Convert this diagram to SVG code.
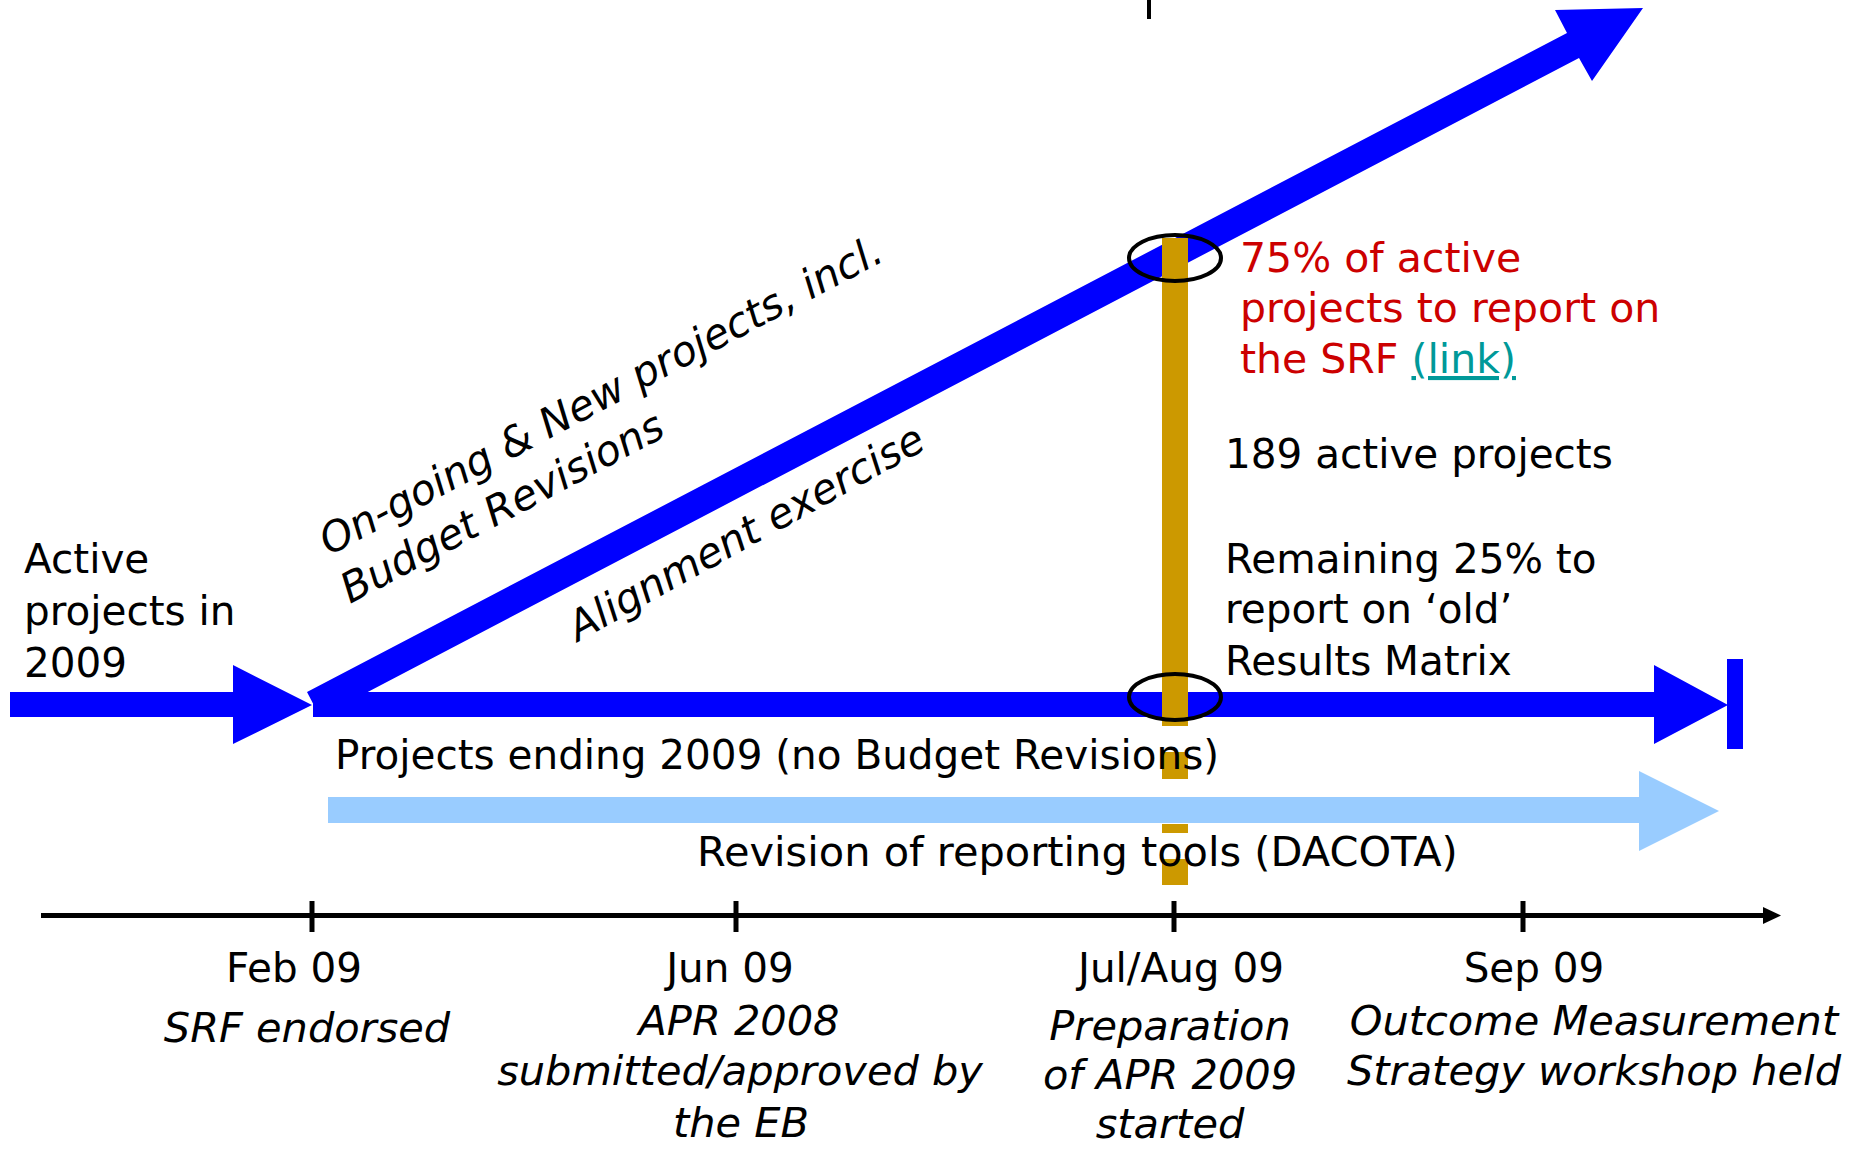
<svg xmlns="http://www.w3.org/2000/svg" width="1861" height="1149" viewBox="0 0 1861 1149">
<style>
text{font-family:"DejaVu Sans","Liberation Sans",sans-serif;font-size:40.5px;fill:#000}
.it{font-style:italic;font-size:41.5px}
.mid{text-anchor:middle}
.red{fill:#CC0000;font-size:41px}
.link{fill:#009999;text-decoration:underline}
.blue{fill:#0000FF}
.gold{fill:#CC9900}
.ell{fill:none;stroke:#000;stroke-width:4}
.tick{stroke:#000;stroke-width:5}
</style>
<rect width="1861" height="1149" fill="#fff"/>
<g id="connectors">
  <polygon class="blue" points="10,692 233,692 233,665 312,705 233,744 233,717 10,717"/>
  <polygon class="blue" points="307,692 1567,33 1555,10 1643,8 1592,81 1579,58 320,717"/>
  <polygon class="blue" points="313,692 1654,692 1654,665 1728,705 1654,744 1654,717 313,717"/>
  <rect class="blue" x="1727" y="659" width="16" height="90"/>
  <rect class="gold" x="1162" y="238" width="26" height="488"/>
  <rect class="gold" x="1162" y="752" width="26" height="27"/>
  <rect class="gold" x="1162" y="824" width="26" height="9"/>
  <rect class="gold" x="1162" y="859" width="26" height="26"/>
  <polygon fill="#99CCFF" points="328,797 1639,797 1639,771 1719,811 1639,851 1639,823 328,823"/>
  <ellipse class="ell" cx="1175" cy="258" rx="46" ry="23"/>
  <ellipse class="ell" cx="1175" cy="697" rx="46" ry="23"/>
  <line class="tick" x1="41" y1="915.5" x2="1766" y2="915.5"/>
  <polygon points="1763,907 1781,915.5 1763,924" fill="#000"/>
  <line class="tick" x1="312" y1="901" x2="312" y2="932"/>
  <line class="tick" x1="736" y1="901" x2="736" y2="932"/>
  <line class="tick" x1="1174" y1="901" x2="1174" y2="932"/>
  <line class="tick" x1="1523" y1="901" x2="1523" y2="932"/>
  <line x1="1149" y1="0" x2="1149" y2="19" stroke="#000" stroke-width="4"/>
</g>
<g id="active-projects">
  <text x="24" y="573">Active</text>
  <text x="24" y="625">projects in</text>
  <text x="24" y="677">2009</text>
</g>
<g id="ongoing-label">
  <text class="it" transform="translate(329,556) rotate(-28)">On-going &amp; New projects, incl.</text>
  <text class="it" transform="translate(350,604) rotate(-28)">Budget Revisions</text>
</g>
<g id="alignment-label">
  <text class="it" transform="translate(578,642) rotate(-29)">Alignment exercise</text>
</g>
<g id="srf-75">
  <text class="red" x="1240" y="272">75% of active</text>
  <text class="red" x="1240" y="322">projects to report on</text>
  <text class="red" x="1240" y="373">the SRF <tspan class="link">(link)</tspan></text>
</g>
<g id="active-189">
  <text x="1225" y="468">189 active projects</text>
</g>
<g id="remaining-25">
  <text x="1225" y="573">Remaining 25% to</text>
  <text x="1225" y="623">report on ‘old’</text>
  <text x="1225" y="675">Results Matrix</text>
</g>
<g id="projects-ending">
  <text x="335" y="769">Projects ending 2009 (no Budget Revisions)</text>
</g>
<g id="revision-tools">
  <text x="697" y="866" style="font-size:41.5px">Revision of reporting tools (DACOTA)</text>
</g>
<g id="feb09">
  <text class="mid" x="294" y="982">Feb 09</text>
  <text class="mid it" x="307" y="1042">SRF endorsed</text>
</g>
<g id="jun09">
  <text class="mid" x="730" y="982">Jun 09</text>
  <text class="mid it" x="739" y="1035">APR 2008</text>
  <text class="mid it" x="740" y="1085">submitted/approved by</text>
  <text class="mid it" x="741" y="1137">the EB</text>
</g>
<g id="julaug09">
  <text class="mid" x="1181" y="982">Jul/Aug 09</text>
  <text class="mid it" x="1170" y="1040">Preparation</text>
  <text class="mid it" x="1170" y="1089">of APR 2009</text>
  <text class="mid it" x="1170" y="1138">started</text>
</g>
<g id="sep09">
  <text class="mid" x="1534" y="982">Sep 09</text>
  <text class="mid it" x="1594" y="1035">Outcome Measurement</text>
  <text class="mid it" x="1594" y="1085">Strategy workshop held</text>
</g>
</svg>
